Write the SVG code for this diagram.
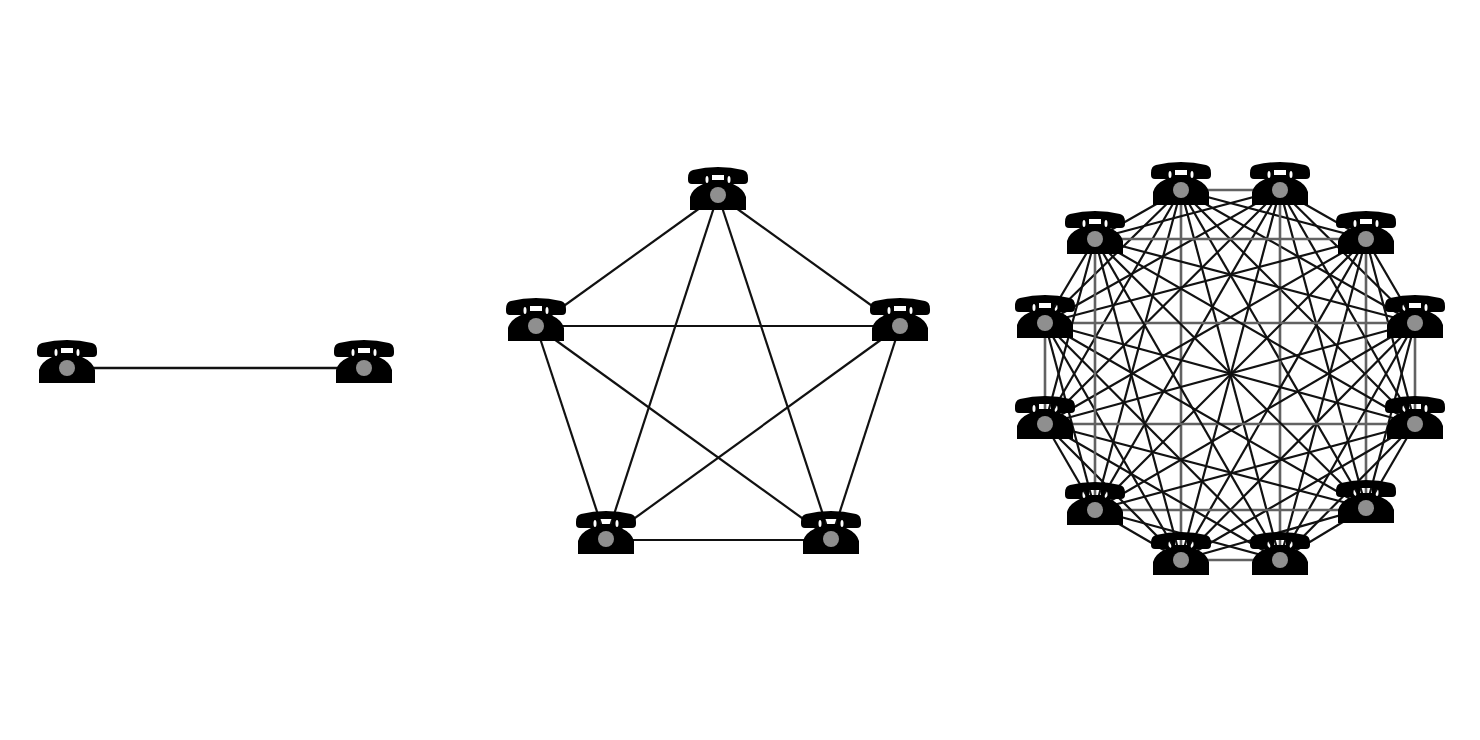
<svg xmlns="http://www.w3.org/2000/svg" width="1480" height="740" viewBox="0 0 1480 740">
<style>
.c line{stroke:#111;stroke-width:2.2;fill:none}
.c line.t{stroke-width:2.6}
.c line.a{stroke:#626262;stroke-width:2.6}
.b{fill:#000;fill-rule:evenodd}
.d{fill:#8f8f8f}
</style>
<defs>
<g id="phone">
<path class="b" d="M-30 -17Q-30 -24 -25 -25Q-13 -28 0 -28Q13 -28 25 -25Q30 -24 30 -17V-15Q30 -11 26 -11H15Q26 -6 28 2V15H-28V2Q-26 -6 -15 -11H-26Q-30 -11 -30 -15ZM-6 -20V-15H6V-20ZM-12.500 -15.500A1.500 3.500 0 0 0 -9.500 -15.500A1.500 3.500 0 0 0 -12.500 -15.500ZM9.500 -15.500A1.500 3.500 0 0 0 12.500 -15.500A1.500 3.500 0 0 0 9.500 -15.500Z"/>
<circle class="d" r="8"/>
</g>
</defs>
<rect width="1480" height="740" fill="#fff"/>
<g id="connectors" class="c">
<line class="t" x1="67" y1="368" x2="364" y2="368"/>
<line x1="718" y1="195" x2="900" y2="326"/>
<line x1="718" y1="195" x2="831" y2="539"/>
<line x1="718" y1="195" x2="606" y2="539"/>
<line x1="718" y1="195" x2="536" y2="326"/>
<line x1="900" y1="326" x2="831" y2="539"/>
<line x1="900" y1="326" x2="606" y2="539"/>
<line x1="900" y1="326" x2="536" y2="326"/>
<line x1="831" y1="540" x2="606" y2="540"/>
<line x1="831" y1="539" x2="536" y2="326"/>
<line x1="606" y1="539" x2="536" y2="326"/>
<line class="a" x1="1181" y1="190" x2="1280" y2="190"/>
<line x1="1181" y1="190" x2="1366" y2="239"/>
<line x1="1181" y1="190" x2="1415" y2="323"/>
<line x1="1181" y1="190" x2="1415" y2="424"/>
<line x1="1181" y1="190" x2="1366" y2="508"/>
<line x1="1181" y1="190" x2="1280" y2="560"/>
<line class="a" x1="1181" y1="190" x2="1181" y2="560"/>
<line x1="1181" y1="190" x2="1095" y2="510"/>
<line x1="1181" y1="190" x2="1045" y2="424"/>
<line x1="1181" y1="190" x2="1045" y2="323"/>
<line x1="1181" y1="190" x2="1095" y2="239"/>
<line x1="1280" y1="190" x2="1366" y2="239"/>
<line x1="1280" y1="190" x2="1415" y2="323"/>
<line x1="1280" y1="190" x2="1415" y2="424"/>
<line x1="1280" y1="190" x2="1366" y2="508"/>
<line class="a" x1="1280" y1="190" x2="1280" y2="560"/>
<line x1="1280" y1="190" x2="1181" y2="560"/>
<line x1="1280" y1="190" x2="1095" y2="510"/>
<line x1="1280" y1="190" x2="1045" y2="424"/>
<line x1="1280" y1="190" x2="1045" y2="323"/>
<line x1="1280" y1="190" x2="1095" y2="239"/>
<line x1="1366" y1="239" x2="1415" y2="323"/>
<line x1="1366" y1="239" x2="1415" y2="424"/>
<line class="a" x1="1366" y1="239" x2="1366" y2="508"/>
<line x1="1366" y1="239" x2="1280" y2="560"/>
<line x1="1366" y1="239" x2="1181" y2="560"/>
<line x1="1366" y1="239" x2="1095" y2="510"/>
<line x1="1366" y1="239" x2="1045" y2="424"/>
<line x1="1366" y1="239" x2="1045" y2="323"/>
<line class="a" x1="1366" y1="239" x2="1095" y2="239"/>
<line class="a" x1="1415" y1="323" x2="1415" y2="424"/>
<line x1="1415" y1="323" x2="1366" y2="508"/>
<line x1="1415" y1="323" x2="1280" y2="560"/>
<line x1="1415" y1="323" x2="1181" y2="560"/>
<line x1="1415" y1="323" x2="1095" y2="510"/>
<line x1="1415" y1="323" x2="1045" y2="424"/>
<line class="a" x1="1415" y1="323" x2="1045" y2="323"/>
<line x1="1415" y1="323" x2="1095" y2="239"/>
<line x1="1415" y1="424" x2="1366" y2="508"/>
<line x1="1415" y1="424" x2="1280" y2="560"/>
<line x1="1415" y1="424" x2="1181" y2="560"/>
<line x1="1415" y1="424" x2="1095" y2="510"/>
<line class="a" x1="1415" y1="424" x2="1045" y2="424"/>
<line x1="1415" y1="424" x2="1045" y2="323"/>
<line x1="1415" y1="424" x2="1095" y2="239"/>
<line x1="1366" y1="508" x2="1280" y2="560"/>
<line x1="1366" y1="508" x2="1181" y2="560"/>
<line class="a" x1="1366" y1="510" x2="1095" y2="510"/>
<line x1="1366" y1="508" x2="1045" y2="424"/>
<line x1="1366" y1="508" x2="1045" y2="323"/>
<line x1="1366" y1="508" x2="1095" y2="239"/>
<line class="a" x1="1280" y1="560" x2="1181" y2="560"/>
<line x1="1280" y1="560" x2="1095" y2="510"/>
<line x1="1280" y1="560" x2="1045" y2="424"/>
<line x1="1280" y1="560" x2="1045" y2="323"/>
<line x1="1280" y1="560" x2="1095" y2="239"/>
<line x1="1181" y1="560" x2="1095" y2="510"/>
<line x1="1181" y1="560" x2="1045" y2="424"/>
<line x1="1181" y1="560" x2="1045" y2="323"/>
<line x1="1181" y1="560" x2="1095" y2="239"/>
<line x1="1095" y1="510" x2="1045" y2="424"/>
<line x1="1095" y1="510" x2="1045" y2="323"/>
<line class="a" x1="1095" y1="510" x2="1095" y2="239"/>
<line class="a" x1="1045" y1="424" x2="1045" y2="323"/>
<line x1="1045" y1="424" x2="1095" y2="239"/>
<line x1="1045" y1="323" x2="1095" y2="239"/>
</g>
<g id="pair-1"><use href="#phone" x="67" y="368"/></g>
<g id="pair-2"><use href="#phone" x="364" y="368"/></g>
<g id="penta-1"><use href="#phone" x="718" y="195"/></g>
<g id="penta-2"><use href="#phone" x="900" y="326"/></g>
<g id="penta-3"><use href="#phone" x="831" y="539"/></g>
<g id="penta-4"><use href="#phone" x="606" y="539"/></g>
<g id="penta-5"><use href="#phone" x="536" y="326"/></g>
<g id="mesh-1"><use href="#phone" x="1181" y="190"/></g>
<g id="mesh-2"><use href="#phone" x="1280" y="190"/></g>
<g id="mesh-3"><use href="#phone" x="1366" y="239"/></g>
<g id="mesh-4"><use href="#phone" x="1415" y="323"/></g>
<g id="mesh-5"><use href="#phone" x="1415" y="424"/></g>
<g id="mesh-6"><use href="#phone" x="1366" y="508"/></g>
<g id="mesh-7"><use href="#phone" x="1280" y="560"/></g>
<g id="mesh-8"><use href="#phone" x="1181" y="560"/></g>
<g id="mesh-9"><use href="#phone" x="1095" y="510"/></g>
<g id="mesh-10"><use href="#phone" x="1045" y="424"/></g>
<g id="mesh-11"><use href="#phone" x="1045" y="323"/></g>
<g id="mesh-12"><use href="#phone" x="1095" y="239"/></g>
</svg>
